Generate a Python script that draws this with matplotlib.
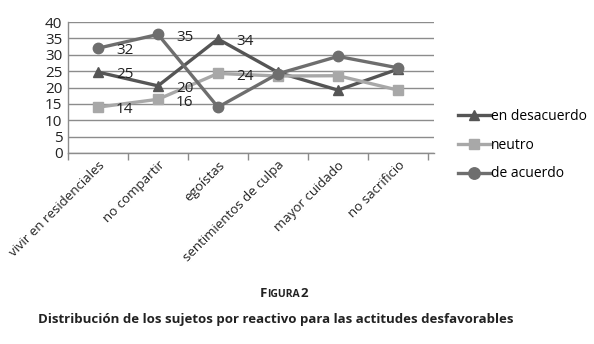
import matplotlib.pyplot as plt

categories = ["vivir en residenciales", "no compartir", "egoístas",
              "sentimientos de culpa", "mayor cuidado", "no sacrificio"]
desacuerdo = [24.7, 20.5, 34.8, 24.6, 19.2, 25.6]
neutro = [14.0, 16.4, 24.3, 23.5, 23.6, 19.2]
acuerdo = [32.0, 36.2, 14.0, 24.2, 29.5, 26.0]
# only the first three points carry a value label
lab_desacuerdo = ["25", "20", "34"]
lab_neutro = ["14", "16", "24"]
lab_acuerdo = ["32", "35"]

plt.rcParams['font.family'] = ['Open Sans', 'DejaVu Sans']
W, H = 594, 344
fig = plt.figure(figsize=(W / 100, H / 100), dpi=100)
ax = fig.add_axes([68 / W, 1 - 153 / H, (434 - 68) / W, (153 - 22) / H])

x = list(range(len(categories)))
series = [
    (desacuerdo, "en desacuerdo", "#555555", "^", 7, lab_desacuerdo),
    (neutro, "neutro", "#a8a8a8", "s", 7, lab_neutro),
    (acuerdo, "de acuerdo", "#6e6e6e", "o", 7.5, lab_acuerdo),
]
for vals, name, col, mk, ms, labs in series:
    ax.plot(x, vals, color=col, lw=2.4, marker=mk, ms=ms, label=name)
    for i, t in enumerate(labs):
        ax.annotate(t, (x[i], vals[i]), xytext=(13, -2), textcoords="offset points",
                    ha="left", va="center", fontsize=11, color="#222222")

ax.set_xlim(-0.5, len(categories) - 0.5 + 0.1)
ax.set_ylim(0, 40)
ax.set_yticks(range(0, 41, 5))
ax.tick_params(axis="y", length=0, labelsize=11, pad=4, colors="#222222")
ax.yaxis.grid(True, color="#8c8c8c", lw=1)
ax.set_axisbelow(True)

ax.set_xticks([i - 0.5 for i in range(len(categories) + 1)], minor=False)
ax.set_xticklabels([])
ax.tick_params(axis="x", length=5, color="#8c8c8c", width=1)
ax.set_xticks(x, minor=True)
ax.set_xticklabels(categories, minor=True, rotation=45, ha="right",
                   rotation_mode="anchor", fontsize=9.5, color="#222222")
ax.tick_params(axis="x", which="minor", length=0, pad=4)

for s in ["top", "right"]:
    ax.spines[s].set_visible(False)
for s in ["left", "bottom"]:
    ax.spines[s].set_color("#8c8c8c")
    ax.spines[s].set_linewidth(1)

fig.legend(loc="center left", bbox_to_anchor=(452 / W, 1 - 145 / H), frameon=False,
           fontsize=10, handlelength=2.4, handletextpad=0.0, labelspacing=1.0,
           borderaxespad=0, markerscale=1.1)

fig.text(260 / W, 1 - 297 / H, "F", fontsize=9.5, fontweight="bold", color="#222222",
         ha="left", va="baseline")
fig.text(267 / W, 1 - 297 / H, "IGURA", fontsize=7.5, fontweight="bold", color="#222222",
         ha="left", va="baseline")
fig.text(301 / W, 1 - 297 / H, "2", fontsize=9.5, fontweight="bold", color="#222222",
         ha="left", va="baseline")
fig.text(276 / W, 1 - 320 / H,
         "Distribución de los sujetos por reactivo para las actitudes desfavorables",
         fontsize=9.5, fontweight="bold", color="#222222", ha="center", va="center")

fig.savefig("out.png", dpi=100)
